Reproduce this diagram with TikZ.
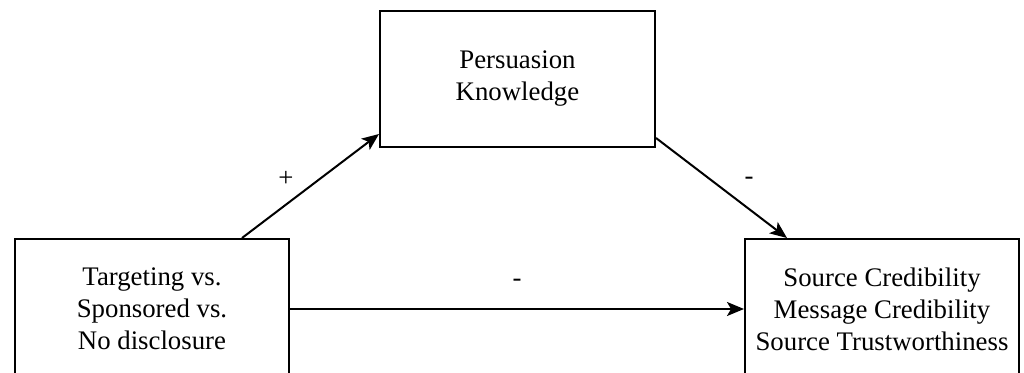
\documentclass[tikz,border=0pt]{standalone}
\usepackage{fontspec}
\setmainfont{Liberation Serif}
\usetikzlibrary{arrows.meta}
\begin{document}
\begin{tikzpicture}[x=1pt,y=-1pt,
  txt/.style={font=\fontsize{26.8}{32}\selectfont},
  box/.style={txt,draw,line width=2pt,align=center,inner sep=0pt},
  conn/.style={line width=2pt,-{Stealth[length=17pt,width=14pt,inset=4pt]}},
  lbl/.style={txt,inner sep=0pt}]
\useasboundingbox (0,0) rectangle (1024,372);
\clip (0,0) rectangle (1024,372);
\node[box,minimum width=274pt,minimum height=140pt] (iv) at (152,309) {Targeting vs.\\Sponsored vs.\\No disclosure};
\node[box,minimum width=275pt,minimum height=136pt] (pk) at (517.5,79) {Persuasion\\Knowledge};
\node[box,minimum width=274pt,minimum height=140pt] (dv) at (882,309) {Source Credibility\\Message Credibility\\Source Trustworthiness};
\draw[conn] ([xshift=228pt]iv.north west) -- ([yshift=14pt]pk.south west);
\draw[conn] ([yshift=10pt]pk.south east) -- ([xshift=43pt]dv.north west);
\draw[conn] (iv.east) -- (dv.west);
\node[lbl] (plus) at (286,179) {+};
\node[lbl] (minus1) at (749,181) {-};
\node[lbl] (minus2) at (517,283) {-};
\end{tikzpicture}
\end{document}
